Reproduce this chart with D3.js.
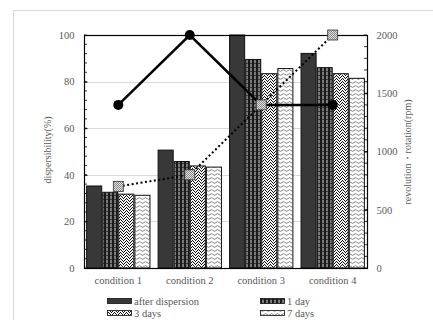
<!DOCTYPE html>
<html>
<head>
<meta charset="utf-8">
<script src="https://cdn.jsdelivr.net/npm/d3@7"></script>
<style>
  body { margin: 0; background: #fff; }
  text { font-family: "Liberation Serif", "DejaVu Serif", serif; fill: #595959; }
</style>
</head>
<body>
<svg id="chart" width="433" height="320"></svg>
<script>
// data
var categories = ["condition 1", "condition 2", "condition 3", "condition 4"];
var seriesNames = ["after dispersion", "1 day", "3 days", "7 days"];
var afterDispersion = [35.2, 50.6, 100, 92.1];
var oneDay = [32.5, 45.7, 89.5, 86.0];
var threeDays = [31.7, 43.8, 83.4, 83.4];
var sevenDays = [31.2, 43.3, 85.6, 81.4];
var rotation = [1400, 2000, 1400, 1400];
var revolution = [700, 800, 1400, 2000];
var leftTicks = [0, 20, 40, 60, 80, 100];
var rightTicks = [0, 500, 1000, 1500, 2000];

var bars = [afterDispersion, oneDay, threeDays, sevenDays];

var svg = d3.select("#chart");
var plotL = 84, plotR = 367, plotT = 35, plotB = 268;

// patterns
var defs = svg.append("defs");
var p1 = defs.append("pattern").attr("id", "pDay1").attr("patternUnits", "userSpaceOnUse")
    .attr("width", 4).attr("height", 4);
p1.append("rect").attr("width", 4).attr("height", 4).attr("fill", "#7a7a7a");
p1.append("rect").attr("width", 2).attr("height", 4).attr("fill", "#1a1a1a");
p1.append("rect").attr("x", 2).attr("y", 3).attr("width", 2).attr("height", 1).attr("fill", "#3a3a3a");

// speckle pattern, fixed dot layout
var p3 = defs.append("pattern").attr("id", "pDay3").attr("patternUnits", "userSpaceOnUse")
    .attr("width", 6).attr("height", 6);
p3.append("rect").attr("width", 6).attr("height", 6).attr("fill", "#f4f4f4");
[[0, 0], [3, 0], [1, 1], [5, 1], [2, 2], [4, 2], [0, 3], [3, 3], [5, 4], [1, 4], [2, 5], [4, 5]].forEach(function(d){
    p3.append("rect").attr("x", d[0]).attr("y", d[1]).attr("width", 1).attr("height", 1).attr("fill", "#111");
});

var p7 = defs.append("pattern").attr("id", "pDay7").attr("patternUnits", "userSpaceOnUse")
    .attr("width", 6).attr("height", 4);
p7.append("rect").attr("width", 6).attr("height", 4).attr("fill", "#fff");
p7.append("path").attr("d", "M0 2.5 Q1.5 0.8 3 2.5 T6 2.5").attr("fill", "none")
    .attr("stroke", "#666").attr("stroke-width", 0.8);

var pm = defs.append("pattern").attr("id", "pMark").attr("patternUnits", "userSpaceOnUse")
    .attr("width", 2).attr("height", 2);
pm.append("rect").attr("width", 2).attr("height", 2).attr("fill", "#e0e0e0");
pm.append("rect").attr("width", 1).attr("height", 1).attr("fill", "#888");
pm.append("rect").attr("x", 1).attr("y", 1).attr("width", 1).attr("height", 1).attr("fill", "#888");

var fills = ["#383838", "url(#pDay1)", "url(#pDay3)", "url(#pDay7)"];

// outer frame
svg.append("rect").attr("x", 13.5).attr("y", 10.5).attr("width", 440).attr("height", 330)
    .attr("fill", "none").attr("stroke", "#d9d9d9");

var x0 = d3.scaleBand().domain(categories).range([plotL, plotR]).paddingInner(0.1).paddingOuter(0.03);
var x1 = d3.scaleBand().domain(d3.range(4)).range([0, x0.bandwidth()]);
var y = d3.scaleLinear().domain([0, 100]).range([plotB, plotT]);
var y2 = d3.scaleLinear().domain([0, 2000]).range([plotB, plotT]);

// grid
svg.append("g").selectAll("line").data([20, 40, 60, 80]).enter().append("line")
    .attr("x1", plotL).attr("x2", plotR)
    .attr("y1", function(d){ return Math.round(y(d)) + 0.5; })
    .attr("y2", function(d){ return Math.round(y(d)) + 0.5; })
    .attr("stroke", "#d9d9d9");

// bars
var gb = svg.append("g");
categories.forEach(function(c, i){
    bars.forEach(function(s, j){
        gb.append("rect")
            .attr("x", x0(c) + x1(j) + 0.5)
            .attr("y", y(s[i]))
            .attr("width", x1.bandwidth() - 1)
            .attr("height", plotB - y(s[i]))
            .attr("fill", fills[j])
            .attr("stroke", "#111").attr("stroke-width", 1);
    });
});

// plot frame
svg.append("rect").attr("x", plotL + 0.5).attr("y", plotT + 0.5)
    .attr("width", plotR - plotL).attr("height", plotB - plotT)
    .attr("fill", "none").attr("stroke", "#000").attr("stroke-width", 1.2);

// left axis
var yAxis = d3.axisLeft(y).tickValues(leftTicks).tickSize(-3).tickPadding(10);
var ga = svg.append("g").attr("transform", "translate(" + (plotL + 0.5) + ",0)").call(yAxis);
ga.select(".domain").remove();
ga.selectAll("line").attr("stroke", "#000");
ga.selectAll("text").style("font-size", "10.5px").style("fill", "#595959");
svg.append("g").selectAll("line").data(d3.range(0, 101, 4)).enter().append("line")
    .attr("x1", plotL).attr("x2", plotL + 3)
    .attr("y1", function(d){ return y(d); }).attr("y2", function(d){ return y(d); })
    .attr("stroke", "#000").attr("stroke-width", 0.8);

// right axis
var y2Axis = d3.axisRight(y2).tickValues(rightTicks).tickFormat(d3.format("d"))
    .tickSize(-3).tickPadding(9);
var ga2 = svg.append("g").attr("transform", "translate(" + (plotR + 0.5) + ",0)").call(y2Axis);
ga2.select(".domain").remove();
ga2.selectAll("line").attr("stroke", "#000");
ga2.selectAll("text").style("font-size", "10.5px").style("fill", "#595959");
svg.append("g").selectAll("line").data(d3.range(0, 2001, 100)).enter().append("line")
    .attr("x1", plotR - 3).attr("x2", plotR)
    .attr("y1", function(d){ return y2(d); }).attr("y2", function(d){ return y2(d); })
    .attr("stroke", "#000").attr("stroke-width", 0.8);

// category labels
svg.append("g").selectAll("text").data(categories).enter().append("text")
    .attr("x", function(d){ return x0(d) + x0.bandwidth() / 2; })
    .attr("y", 284).attr("text-anchor", "middle")
    .style("font-size", "10.5px").text(function(d){ return d; });

// axis titles
svg.append("text").attr("transform", "translate(51,150) rotate(-90)")
    .attr("text-anchor", "middle").style("font-size", "10px").text("dispersibility(%)");
svg.append("text").attr("transform", "translate(411,152) rotate(-90)")
    .attr("text-anchor", "middle").style("font-size", "10px").text("revolution・rotation(rpm)");

// lines
var cx = function(d, i){ return x0(categories[i]) + x0.bandwidth() / 2; };
var lineRot = d3.line().x(cx).y(function(d){ return y2(d); });
svg.append("path").attr("d", lineRot(rotation)).attr("fill", "none")
    .attr("stroke", "#000").attr("stroke-width", 2.5);
var lineRev = d3.line().x(cx).y(function(d){ return y2(d); });
svg.append("path").attr("d", lineRev(revolution)).attr("fill", "none")
    .attr("stroke", "#000").attr("stroke-width", 2).attr("stroke-dasharray", "2,2.5");

svg.append("g").selectAll("circle").data(rotation).enter().append("circle")
    .attr("cx", cx).attr("cy", function(d){ return y2(d); }).attr("r", 5).attr("fill", "#000");
svg.append("g").selectAll("rect").data(revolution).enter().append("rect")
    .attr("x", function(d, i){ return cx(d, i) - 5; })
    .attr("y", function(d){ return y2(d) - 5; })
    .attr("width", 10).attr("height", 10)
    .attr("fill", "url(#pMark)").attr("stroke", "#333").attr("stroke-width", 0.8);

// legend
var legPos = [[107, 298], [260, 298], [107, 310], [260, 310]];
var gl = svg.append("g");
seriesNames.forEach(function(n, j){
    gl.append("rect").attr("x", legPos[j][0] + 0.5).attr("y", legPos[j][1] + 0.5)
        .attr("width", 24).attr("height", 5)
        .attr("fill", fills[j]).attr("stroke", "#111").attr("stroke-width", 0.8);
    gl.append("text").attr("x", legPos[j][0] + 27).attr("y", legPos[j][1] + 7)
        .style("font-size", "10.5px").text(n);
});
</script>
</body>
</html>
